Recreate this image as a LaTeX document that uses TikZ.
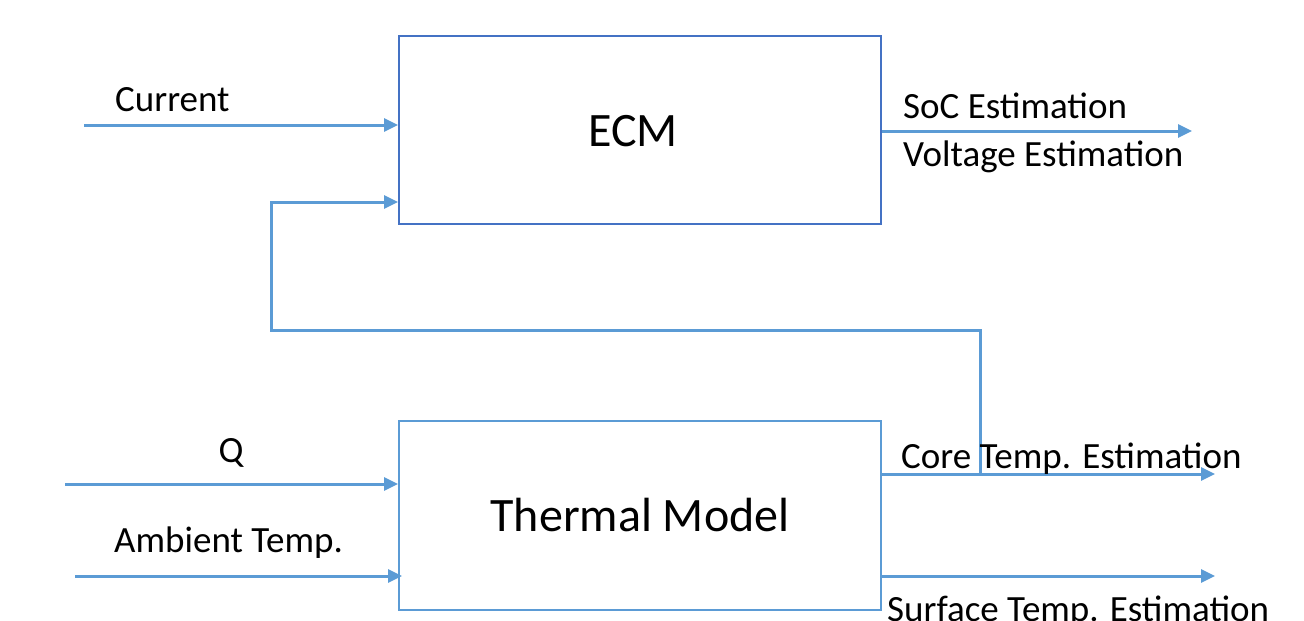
\documentclass[tikz,border=0pt]{standalone}
\usepackage{fontspec}
\setmainfont{Carlito}
\usetikzlibrary{arrows.meta}
\definecolor{lineblue}{HTML}{5B9BD5}
\definecolor{boxblue}{HTML}{4472C4}
\tikzset{
  flow/.style={draw=lineblue, line width=3pt, -{Triangle[length=14pt,width=13pt]}},
  block/.style={rectangle, line width=2pt, fill=white, minimum width=482pt, inner sep=0pt},
  lbl/.style={font=\fontsize{37}{40}\selectfont, inner sep=0pt},
}
\begin{document}
\begin{tikzpicture}[x=1pt,y=-1pt]
\useasboundingbox (0,0) rectangle (1304,621);
% blocks
\node[block, draw=boxblue, minimum height=188pt] (ecm) at (640,130) {};
\node[font=\fontsize{48}{52}\selectfont, inner sep=0pt] (ecmtext) at (633,131) {ECM};
\node[block, draw=lineblue, minimum height=189pt, font=\fontsize{48}{52}\selectfont] (thm) at (640,515.5) {Thermal Model};
% free ends
\coordinate (curin) at (84,125);
\coordinate (qin) at (65,484);
\coordinate (ambin) at (75,576);
\coordinate (socout) at (1192,131);
\coordinate (coreout) at (1215,474);
\coordinate (surfout) at (1215,576);
\coordinate (fbx) at (980,474);
% inputs
\draw[flow] (curin) -- (curin -| ecm.west);
\draw[flow] (qin) -- (qin -| thm.west);
\draw[flow] (ambin) -- ([xshift=4pt]ambin -| thm.west);
% outputs
\draw[flow] (socout -| ecm.east) -- (socout);
\draw[flow] (coreout -| thm.east) -- (coreout);
\draw[flow] (surfout -| thm.east) -- (surfout);
% feedback
\draw[flow] (fbx) -- (980,330) -- (271,330) -- (271,202) -- (ecm.west |- 0,202);
% labels
\node[lbl, anchor=base west] (lcur) at (115,111) {Current};
\node[lbl, anchor=base] (lq) at (231,462) {Q};
\node[lbl, anchor=base west] (lamb) at (114,552) {Ambient Temp.};
\node[lbl, anchor=base west] (lsoc) at (903,118) {SoC Estimation};
\node[lbl, anchor=base west] (lvolt) at (903,166) {Voltage Estimation};
\node[lbl, anchor=base west] (lcore) at (901,468) {Core Temp. Estimation};
\node[lbl, anchor=base west] (lsurf) at (887,621) {Surface Temp. Estimation};
\end{tikzpicture}
\end{document}
